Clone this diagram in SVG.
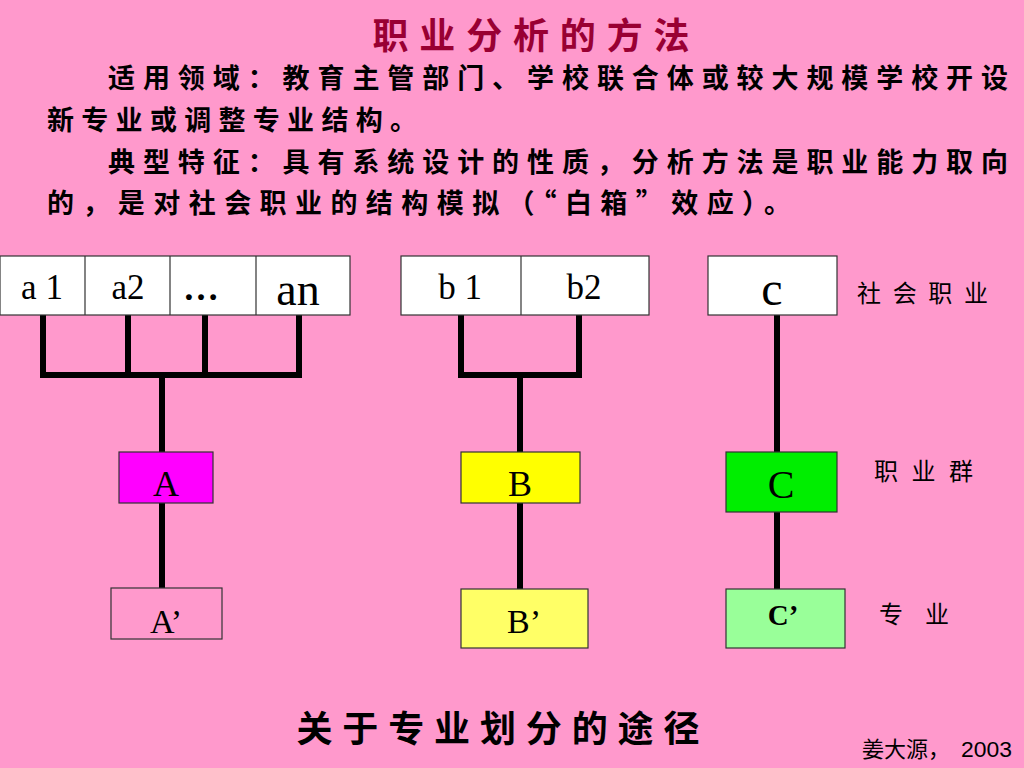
<svg xmlns="http://www.w3.org/2000/svg" width="1024" height="768" viewBox="0 0 1024 768">
<style>
.cjk{font-family:"Noto Sans CJK SC","Noto Sans CJK TC",sans-serif}
.hd{font-size:27px;font-weight:bold;fill:#000}
.rom{font-family:"Liberation Serif","Times New Roman",serif;fill:#000;text-anchor:middle}
.box{stroke:#333;stroke-width:1.2}
.wh{fill:#fff}
.lbl{font-size:24px;fill:#000}
.conn{stroke:#000;stroke-width:6;fill:none;stroke-linecap:square}
</style>
<rect width="1024" height="768" fill="#FF99CC"/>
<g id="header">
<text x="531" y="49" class="cjk" font-size="36" font-weight="bold" fill="#990033" text-anchor="middle" textLength="317" lengthAdjust="spacing">职业分析的方法</text>
<text x="108" y="88" class="cjk hd" textLength="900" lengthAdjust="spacing">适用领域：教育主管部门、学校联合体或较大规模学校开设</text>
<text x="47" y="130" class="cjk hd" textLength="370" lengthAdjust="spacing">新专业或调整专业结构。</text>
<text x="108" y="172" class="cjk hd" textLength="900" lengthAdjust="spacing">典型特征：具有系统设计的性质，分析方法是职业能力取向</text>
<text x="47" y="213" class="cjk hd" textLength="744" lengthAdjust="spacing">的，是对社会职业的结构模拟（“白箱”效应）。</text>
</g>
<g id="connectors">
<path class="conn" d="M43 315V375M128 315V375M205 315V375M299 315V375M43 375H299M162 375V452M162 503V588"/>
<path class="conn" d="M461 315V375M579 315V375M461 375H579M520 375V452M520 503V589"/>
<path class="conn" d="M777 315V452M777 512V589"/>
</g>
<g id="node-a">
<rect class="box wh" x="0" y="256" width="350" height="59"/>
<path d="M85 256V315M170 256V315M256 256V315" stroke="#333" stroke-width="1.2"/>
<text x="42" y="299" class="rom" font-size="35">a 1</text>
<text x="128" y="299" class="rom" font-size="35">a2</text>
<text x="201" y="300" class="rom" font-size="36" font-weight="bold">…</text>
<text x="298" y="305" class="rom" font-size="46">an</text>
</g>
<g id="node-b">
<rect class="box wh" x="401" y="256" width="248" height="59"/>
<path d="M521 256V315" stroke="#333" stroke-width="1.2"/>
<text x="460" y="299" class="rom" font-size="35">b 1</text>
<text x="584" y="299" class="rom" font-size="35">b2</text>
</g>
<g id="node-c">
<rect class="box wh" x="708" y="256" width="129" height="59"/>
<text x="772" y="305" class="rom" font-size="48">c</text>
</g>
<g id="node-A">
<rect class="box" x="119" y="452" width="94" height="51" fill="#FF00FF"/>
<text x="166" y="496" class="rom" font-size="36">A</text>
</g>
<g id="node-A2">
<rect class="box" x="111" y="588" width="111" height="51" fill="#FF99CC"/>
<text x="166" y="633" class="rom" font-size="34">A’</text>
</g>
<g id="node-B">
<rect class="box" x="461" y="452" width="119" height="51" fill="#FFFF00"/>
<text x="520" y="496" class="rom" font-size="36">B</text>
</g>
<g id="node-B2">
<rect class="box" x="461" y="589" width="127" height="59" fill="#FFFF66"/>
<text x="524" y="633" class="rom" font-size="34">B’</text>
</g>
<g id="node-C">
<rect class="box" x="726" y="452" width="111" height="60" fill="#00EE00"/>
<text x="781" y="498" class="rom" font-size="40">C</text>
</g>
<g id="node-C2">
<rect class="box" x="726" y="589" width="119" height="59" fill="#99FF99"/>
<text x="783" y="625" class="rom" font-size="29" font-weight="bold">C’</text>
</g>
<g id="labels">
<text x="857" y="302" class="cjk lbl" textLength="131" lengthAdjust="spacing">社会职业</text>
<text x="874" y="480" class="cjk lbl" textLength="99" lengthAdjust="spacing">职业群</text>
<text x="879" y="623" class="cjk lbl">专</text>
<text x="925" y="623" class="cjk lbl">业</text>
<text x="498" y="742" class="cjk" font-size="36" font-weight="bold" fill="#000" text-anchor="middle" textLength="403" lengthAdjust="spacing">关于专业划分的途径</text>
<text x="862" y="757" class="cjk" font-size="22" fill="#000">姜大源，<tspan x="961" font-family="'Liberation Sans',sans-serif" textLength="51" lengthAdjust="spacingAndGlyphs">2003</tspan></text>
</g>
</svg>
